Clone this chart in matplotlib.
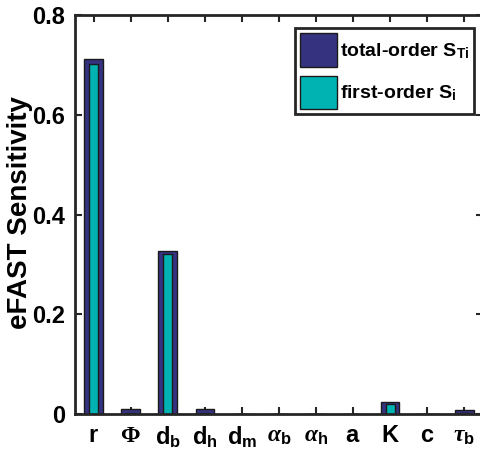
import matplotlib
matplotlib.use("Agg")
from matplotlib import pyplot as plt
import numpy as np

params = [r'$\mathbf{r}$', r'$\mathsf{\Phi}$', r'$\mathbf{d_b}$', r'$\mathbf{d_h}$', r'$\mathbf{d_m}$',
          r'$\alpha_\mathbf{b}$', r'$\alpha_\mathbf{h}$', r'$\mathbf{a}$', r'$\mathbf{K}$',
          r'$\mathbf{c}$', r'$\tau_\mathbf{b}$']
total_order = [0.711, 0.010, 0.327, 0.010, 0.0, 0.0, 0.0, 0.0, 0.025, 0.0, 0.009]
first_order = [0.701, 0.003, 0.321, 0.003, 0.0, 0.0, 0.0, 0.0, 0.021, 0.0, 0.003]

plt.rcParams['font.family'] = ['Liberation Sans', 'DejaVu Sans']
plt.rcParams['font.weight'] = 'bold'
plt.rcParams['mathtext.fontset'] = 'custom'
plt.rcParams['mathtext.rm'] = 'Liberation Sans:bold'
plt.rcParams['mathtext.bf'] = 'Liberation Sans:bold'
plt.rcParams['mathtext.it'] = 'Liberation Serif:italic'
plt.rcParams['mathtext.sf'] = 'Liberation Serif'

fig = plt.figure(figsize=(4.81, 4.69), dpi=100)
ax = fig.add_axes([0.156, 0.117, 0.848, 0.851])

x = np.arange(1, len(params) + 1)
ax.bar(x, total_order, width=0.5, color='#35327f', edgecolor='#1a1a1a', linewidth=1,
       label=r'total-order S$_\mathbf{Ti}$', zorder=2)
ax.bar(x, first_order, width=0.25, color='#00b3b3', edgecolor='#1a1a1a', linewidth=1,
       label=r'first-order S$_\mathbf{i}$', zorder=3)

ax.set_xlim(0.5, 11.5)
ax.set_ylim(0, 0.8)
ax.set_xticks(x)
ax.set_xticklabels(params)
ax.set_yticks([0, 0.2, 0.4, 0.6, 0.8])
ax.set_yticklabels(['0', '0.2', '0.4', '0.6', '0.8'])
ax.tick_params(direction='in', length=5, width=1.5, labelsize=17, color='#262626',
               top=True, right=True, pad=7)
for s in ax.spines.values():
    s.set_linewidth(2)
    s.set_color('#262626')
    s.set_zorder(5)

ax.set_ylabel('eFAST Sensitivity', fontsize=20, fontweight='bold')
ax.yaxis.set_label_coords(-0.104, 0.505)

leg = ax.legend(loc='upper right', bbox_to_anchor=(0.978, 0.967), fontsize=14,
                frameon=True, fancybox=False, edgecolor='#262626', framealpha=1,
                handlelength=1.9, handleheight=2.3, handletextpad=0.15,
                borderpad=0.25, labelspacing=0.45, borderaxespad=0)
leg.get_frame().set_linewidth(2)

fig.savefig('out.png', dpi=100)
